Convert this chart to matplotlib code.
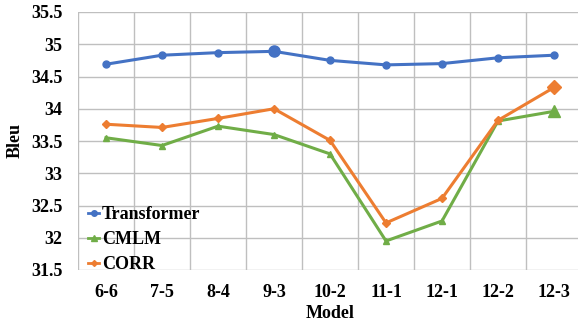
import matplotlib.pyplot as plt
from matplotlib.lines import Line2D

plt.rcParams["font.family"] = ["Liberation Serif", "DejaVu Serif"]
plt.rcParams["font.weight"] = "bold"

models = ["6-6", "7-5", "8-4", "9-3", "10-2", "11-1", "12-1", "12-2", "12-3"]
transformer = [34.69, 34.83, 34.87, 34.89, 34.75, 34.68, 34.70, 34.79, 34.83]
cmlm = [33.55, 33.43, 33.73, 33.60, 33.30, 31.95, 32.26, 33.81, 33.96]
corr = [33.76, 33.71, 33.85, 34.00, 33.51, 32.23, 32.61, 33.82, 34.33]
yticks = [31.5, 32, 32.5, 33, 33.5, 34, 34.5, 35, 35.5]

blue = "#4472C4"
green = "#70AD47"
orange = "#ED7D31"

fig = plt.figure(figsize=(5.78, 3.25), dpi=100)
ax = fig.add_axes([78 / 578, 55 / 325, 504 / 578, 258 / 325])

x = list(range(len(models)))
ax.plot(x, transformer, color=blue, lw=2.2, marker="o", ms=5, zorder=3)
ax.plot(x, cmlm, color=green, lw=2.2, marker="^", ms=5, zorder=3)
ax.plot(x, corr, color=orange, lw=2.2, marker="D", ms=4, zorder=4)

# highlighted points
best_t = transformer.index(max(transformer))
ax.plot(x[best_t], transformer[best_t], "o", color=blue, ms=8, zorder=5)
ax.plot(x[-1], cmlm[-1], "^", color=green, ms=8, zorder=5)
ax.plot(x[-1], corr[-1], "D", color=orange, ms=7, zorder=5)

ax.set_xlim(-0.5, len(models) - 0.5)
ax.set_ylim(31.5, 35.5)
ax.set_yticks(yticks)
ax.set_yticklabels([f"{v:g}" for v in yticks])
ax.set_xticks(x)
ax.set_xticklabels(models)
ax.set_xticks([i - 0.5 for i in range(len(models) + 1)], minor=True)

ax.grid(True, which="major", axis="y", color="#BFBFBF", lw=1)
ax.grid(True, which="minor", axis="x", color="#BFBFBF", lw=1)
ax.grid(False, which="major", axis="x")
for s in ax.spines.values():
    s.set_visible(False)
ax.tick_params(which="both", length=0)
ax.tick_params(axis="y", pad=11, labelsize=13)
ax.tick_params(axis="x", pad=10, labelsize=13)

ax.set_ylabel("Bleu", fontsize=13, fontweight="bold")
ax.yaxis.set_label_coords(-0.108, 0.5)
ax.set_xlabel("Model", fontsize=13, fontweight="bold", labelpad=3)

handles = [
    Line2D([], [], color=blue, lw=2, marker="o", ms=4),
    Line2D([], [], color=green, lw=2, marker="^", ms=4),
    Line2D([], [], color=orange, lw=2, marker="D", ms=3),
]
ax.legend(handles, ["Transformer", "CMLM", "CORR"], loc="lower left",
          bbox_to_anchor=(-0.012, -0.075), frameon=False, handlelength=0.6,
          handletextpad=0.15, labelspacing=0.45, prop={"weight": "bold", "size": 13})

fig.savefig("out.png", dpi=100)
